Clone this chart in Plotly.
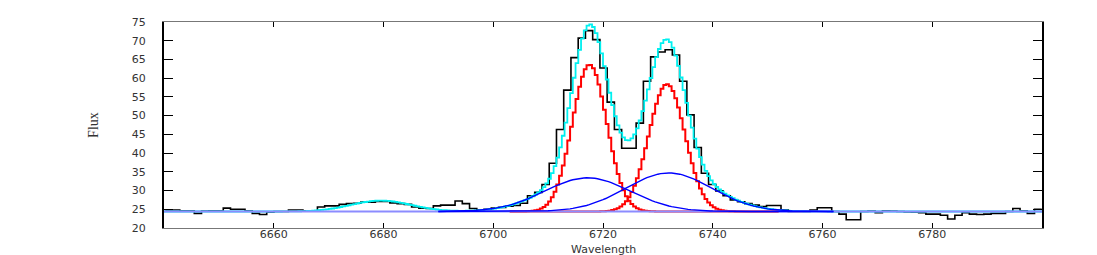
import numpy as np
import plotly.graph_objects as go

# ---- observed spectrum (binned) ----
bin_start = 6640.24      # first bin left edge (Angstrom)
bin_width = 1.32         # Angstrom
flux_obs = [
    24.8, 24.8, 24.6, 24.6, 23.9, 24.5, 24.6, 24.6, 25.3, 25.0,
    25.0, 24.6, 23.9, 23.6, 24.2, 24.4, 24.4, 24.8, 24.8, 24.6,
    24.6, 25.6, 25.9, 25.9, 26.3, 26.5, 26.6, 26.9, 26.9, 27.1,
    27.1, 26.7, 26.5, 26.3, 25.6, 25.3, 25.2, 25.9, 26.1, 26.1,
    27.2, 26.5, 25.2, 24.8, 25.0, 25.3, 25.5, 25.8, 26.0, 26.6,
    28.6, 29.5, 31.6, 37.3, 46.3, 56.8, 65.5, 70.7, 72.7, 70.3,
    62.7, 53.6, 46.3, 41.3, 41.3, 48.0, 59.2, 65.7, 67.0, 67.6,
    66.2, 59.2, 50.2, 41.5, 34.6, 31.6, 29.9, 28.6, 27.5, 27.0,
    26.5, 26.1, 25.7, 26.0, 26.0, 24.8, 24.4, 24.4, 24.4, 24.8,
    25.4, 25.4, 24.4, 23.7, 22.2, 22.2, 24.4, 24.5, 24.1, 24.6,
    24.5, 24.4, 24.3, 24.2, 24.1, 23.7, 23.7, 23.4, 22.4, 23.4,
    24.1, 23.7, 23.6, 23.7, 23.9, 23.9, 24.4, 25.2, 24.6, 23.9,
    25.0,
]

# ---- fit parameters ----
continuum = 24.4
narrow_center = [6717.3, 6731.4]
narrow_amp = [39.2, 34.0]
narrow_sigma = [3.15, 3.3]
broad_center = [6717.2, 6732.0]
broad_amp = [9.0, 10.3]
broad_sigma = [7.8, 7.8]
weak_center = [6679.3]
weak_amp = [2.9]
weak_sigma = [5.5]

x_ticks = [6660, 6680, 6700, 6720, 6740, 6760, 6780]
y_ticks = [20, 25, 30, 35, 40, 45, 50, 55, 60, 65, 70, 75]


def gauss(x, c, a, s):
    return a * np.exp(-0.5 * ((x - c) / s) ** 2)


n = len(flux_obs)
edges = bin_start + bin_width * np.arange(n + 1)
hist_x = list(edges)
hist_y = list(flux_obs) + [flux_obs[-1]]

wl = np.arange(6640.0, 6800.01, 0.5)
total = np.full_like(wl, continuum)
for c, a, s in zip(narrow_center + broad_center + weak_center,
                   narrow_amp + broad_amp + weak_amp,
                   narrow_sigma + broad_sigma + weak_sigma):
    total = total + gauss(wl, c, a, s)

wl_n = wl[(wl >= 6703) & (wl <= 6752)]
wl_b = wl[(wl >= 6690) & (wl <= 6762)]

fig = go.Figure()
fig.add_trace(go.Scatter(x=hist_x, y=hist_y, mode="lines", line_shape="hv",
                         line=dict(color="black", width=1.6), name="data"))
fig.add_trace(go.Scatter(x=wl, y=total, mode="lines", line_shape="hv",
                         line=dict(color="#00f0f0", width=1.8), name="model"))
for c, a, s in zip(narrow_center, narrow_amp, narrow_sigma):
    fig.add_trace(go.Scatter(x=wl_n, y=continuum + gauss(wl_n, c, a, s), mode="lines",
                             line_shape="hv", line=dict(color="red", width=2)))
fig.add_trace(go.Scatter(x=[wl[0], wl[-1]], y=[continuum, continuum], mode="lines",
                         line=dict(color="rgb(140,140,255)", width=2.2), name="continuum"))
for c, a, s in zip(broad_center, broad_amp, broad_sigma):
    fig.add_trace(go.Scatter(x=wl_b, y=continuum + gauss(wl_b, c, a, s), mode="lines",
                             line=dict(color="blue", width=1.4)))

tickfont = dict(family="DejaVu Sans", size=11, color="#333")
fig.update_layout(
    width=1089, height=247,
    margin=dict(l=156, r=55, t=8, b=27),
    paper_bgcolor="white", plot_bgcolor="white",
    showlegend=False,
    xaxis=dict(range=[6640, 6800], tickvals=x_ticks, ticks="inside", ticklen=5,
               tickcolor="black", showline=True, linecolor="#777", linewidth=1,
               mirror="ticks", showgrid=False, zeroline=False, tickfont=tickfont,
               ticklabelstandoff=-4),
    yaxis=dict(range=[20, 75], tickvals=y_ticks, ticks="inside", ticklen=9,
               tickcolor="black", showline=True, linecolor="black", linewidth=2,
               mirror="ticks", showgrid=False, zeroline=False, tickfont=tickfont,
               ticklabelstandoff=14),
    annotations=[
        dict(text="Wavelength", x=0.5, y=-0.106, xref="paper", yref="paper",
             xanchor="center", yanchor="middle", showarrow=False,
             font=dict(family="DejaVu Sans", size=11, color="#333")),
        dict(text="Flux", x=-0.081, y=0.5, xref="paper", yref="paper",
             xanchor="center", yanchor="middle", showarrow=False, textangle=-90,
             font=dict(family="Liberation Serif", size=14, color="#333")),
    ],
)

fig.write_html("out.html")
